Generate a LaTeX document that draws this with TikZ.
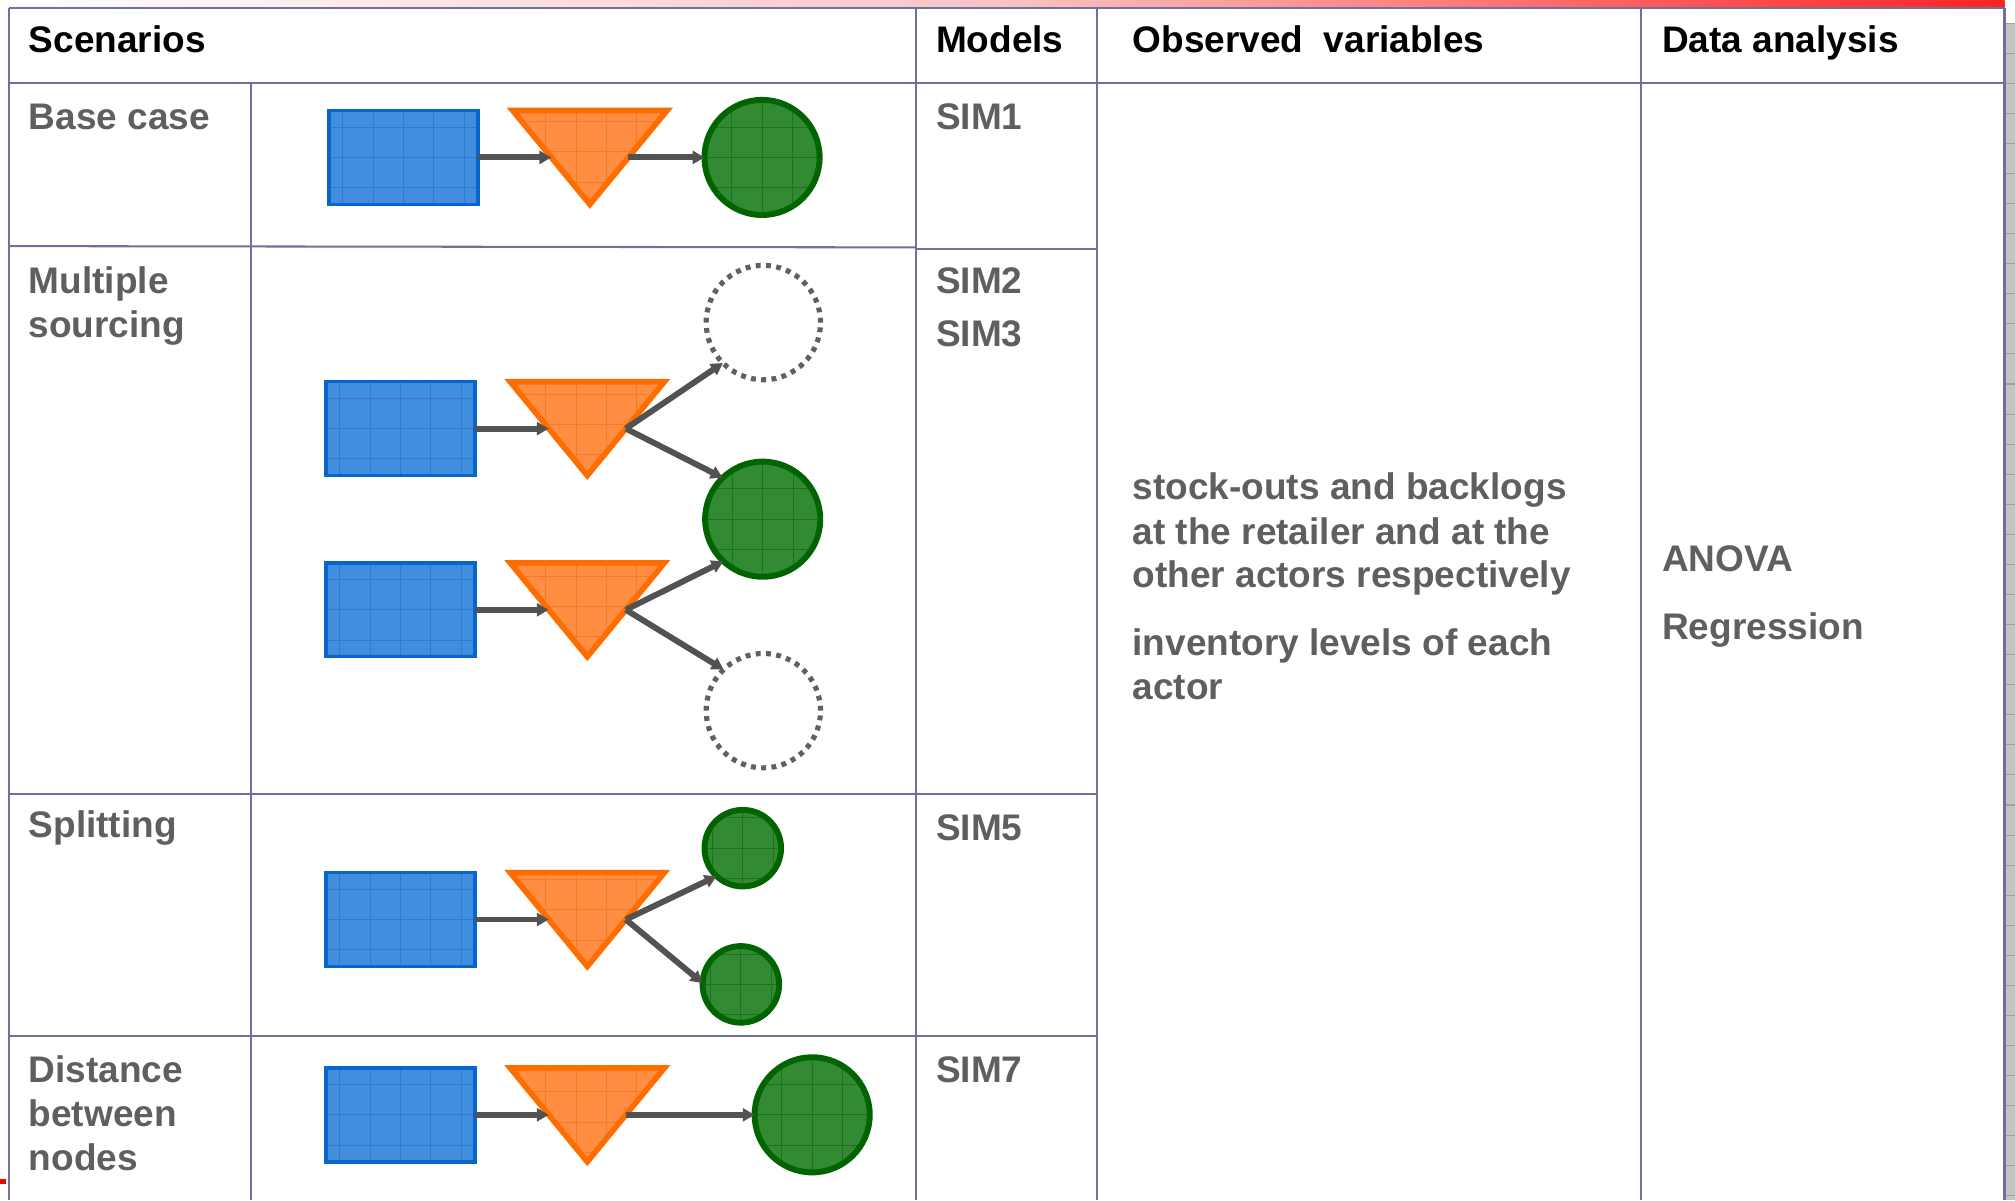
\documentclass[tikz,border=0pt]{standalone}
\usepackage{fontspec}
\setmainfont{Liberation Sans}
\usetikzlibrary{arrows.meta}
\definecolor{tline}{RGB}{112,112,160}
\definecolor{tgray}{RGB}{95,95,95}
\definecolor{bluefill}{RGB}{66,142,222}
\definecolor{blueedge}{RGB}{6,102,204}
\definecolor{bluegrid}{RGB}{46,122,208}
\definecolor{orangefill}{RGB}{255,142,66}
\definecolor{orangeedge}{RGB}{255,108,0}
\definecolor{orangegrid}{RGB}{244,124,40}
\definecolor{greenfill}{RGB}{50,138,50}
\definecolor{greenedge}{RGB}{0,100,0}
\definecolor{greengrid}{RGB}{30,114,30}
\definecolor{arrgray}{RGB}{82,82,82}
\definecolor{dotgray}{RGB}{96,96,96}
\definecolor{pinkmid}{RGB}{248,196,196}
\definecolor{bandred}{RGB}{255,34,34}
\definecolor{stripgray}{RGB}{196,196,196}
\definecolor{stripline}{RGB}{160,160,160}
\newcommand{\invtri}[3]{%
  \path[trishape] (#2,#3) -- (#2+120,#3) -- (#2+60,#3+73) -- cycle;
  \coordinate (#1in) at (#2+30,#3+36.5);
  \coordinate (#1out) at (#2+90,#3+36.5);
}
\begin{document}
\begin{tikzpicture}[x=0.5pt,y=-0.5pt,
  gridtex/.style={path picture={\draw[#1,line width=0.35pt]
     (path picture bounding box.south west) grid[step=11.8pt]
     (path picture bounding box.north east);}},
  tab/.style={draw=tline, line width=0.8pt},
  boxnode/.style={rectangle, draw=blueedge, fill=bluefill, line width=1.4pt,
     minimum width=58pt, minimum height=36.5pt, inner sep=0pt, outer sep=0pt, gridtex=bluegrid},
  trishape/.style={draw=orangeedge, fill=orangefill, line width=2.2pt, line join=miter, gridtex=orangegrid},
  bignode/.style={circle, draw=greenedge, fill=greenfill, line width=2.3pt,
     minimum size=44.8pt, inner sep=0pt, outer sep=0pt, gridtex=greengrid},
  smallnode/.style={bignode, minimum size=29.8pt},
  ghost/.style={circle, draw=dotgray, line width=2pt, dash pattern=on 1.9pt off 2.1pt,
     minimum size=44.5pt, inner sep=0pt, outer sep=0pt},
  arr/.style={draw=arrgray, line width=2.3pt, -{Triangle[length=4.6pt,width=5pt]}},
  hdr/.style={font=\fontsize{14.4pt}{17.5pt}\selectfont\bfseries, anchor=base west, inner sep=0pt, text=black},
  lbl/.style={hdr, text=tgray}
]
\useasboundingbox (0,0) rectangle (1568,934);
\fill[white] (0,0) rectangle (1568,934);
% top band
\shade[left color=white, right color=pinkmid] (0,0) rectangle (780,6);
\shade[left color=pinkmid, right color=bandred] (780,0) rectangle (1560,6);
% right strip
\fill[stripgray] (1561,18) rectangle (1568,934);
\foreach \k in {0,...,39} \draw[stripline, line width=0.4pt] (1561,{18+\k*23.4}) -- (1568,{18+\k*23.4});
% bottom-left red mark
\fill[red] (0,917.5) rectangle (5,921.5);

% table
\draw[tab] (7,6.5) -- (1560,6.5);
\draw[tab] (7,64.5) -- (1560,64.5);
\draw[tab] (7,6.5) -- (7,934);
\draw[tab, line width=1.1pt] (1560,6.5) -- (1560,934);
\draw[tab] (195,64.5) -- (195,934);
\draw[tab] (713,6.5) -- (713,934);
\draw[tab] (854,6.5) -- (854,934);
\draw[tab] (1277,6.5) -- (1277,934);
\draw[tab] (7,191.5) -- (713,192.5);
\draw[tab] (713,194) -- (854,194);
\draw[tab] (7,618) -- (854,618);
\draw[tab] (7,806) -- (854,806);

% headers
\node[hdr] (hScen) at (22,41) {Scenarios};
\node[hdr] (hMod) at (728,41) {Models};
\node[hdr] (hObs) at (881,41) {Observed\ \ variables};
\node[hdr] (hData) at (1293,41) {Data analysis};

% row labels
\node[lbl] (lBase) at (22,101) {Base case};
\node[lbl] (lMulA) at (22,228) {Multiple};
\node[lbl] (lMulB) at (22,262.5) {sourcing};
\node[lbl] (lSplit) at (22,652) {Splitting};
\node[lbl] (lDisA) at (22,842) {Distance};
\node[lbl] (lDisB) at (22,876.5) {between};
\node[lbl] (lDisC) at (22,911) {nodes};

% models
\node[lbl] (m1) at (728,101) {SIM1};
\node[lbl] (m2) at (728,228) {SIM2};
\node[lbl] (m3) at (728,270) {SIM3};
\node[lbl] (m5) at (728,654) {SIM5};
\node[lbl] (m7) at (728,842) {SIM7};

% observed variables
\node[lbl] (o1) at (881,388.5) {stock-outs and backlogs};
\node[lbl] (o2) at (881,423.5) {at the retailer and at the};
\node[lbl] (o3) at (881,457.5) {other actors respectively};
\node[lbl] (o4) at (881,510) {inventory levels of each};
\node[lbl] (o5) at (881,544.5) {actor};

% data analysis
\node[lbl] (d1) at (1293,445) {ANOVA};
\node[lbl] (d2) at (1293,498) {Regression};

% base case
\node[boxnode] (r0) at (314,122.5) {};
\invtri{t0}{399}{86}
\node[bignode] (c0) at (593,122.5) {};
\draw[arr] (r0.east) -- (t0in);
\draw[arr] (t0out) -- (c0.west);

% multiple sourcing
\node[boxnode] (r1) at (311.5,333.5) {};
\invtri{t1}{397}{297}
\node[boxnode] (r2) at (311.5,474.5) {};
\invtri{t2}{397}{438}
\node[ghost] (g1) at (594,251) {};
\node[bignode] (c1) at (593.5,404) {};
\node[ghost] (g2) at (594,553) {};
\draw[arr] (r1.east) -- (t1in);
\draw[arr] (r2.east) -- (t2in);
\draw[arr] (t1out) -- (g1.225);
\draw[arr] (t1out) -- (c1.134);
\draw[arr] (t2out) -- (c1.227);
\draw[arr] (t2out) -- (g2.134);

% splitting
\node[boxnode] (r3) at (311.5,715.5) {};
\invtri{t3}{397}{679}
\node[smallnode] (s1) at (578,660) {};
\node[smallnode] (s2) at (576.5,766) {};
\draw[arr] (r3.east) -- (t3in);
\draw[arr] (t3out) -- (s1.227);
\draw[arr] (t3out) -- (s2.178);

% distance between nodes
\node[boxnode] (r4) at (311.5,867.5) {};
\invtri{t4}{397}{831}
\node[bignode] (c3) at (632,867.5) {};
\draw[arr] (r4.east) -- (t4in);
\draw[arr] (t4out) -- (c3.west);
\end{tikzpicture}
\end{document}
